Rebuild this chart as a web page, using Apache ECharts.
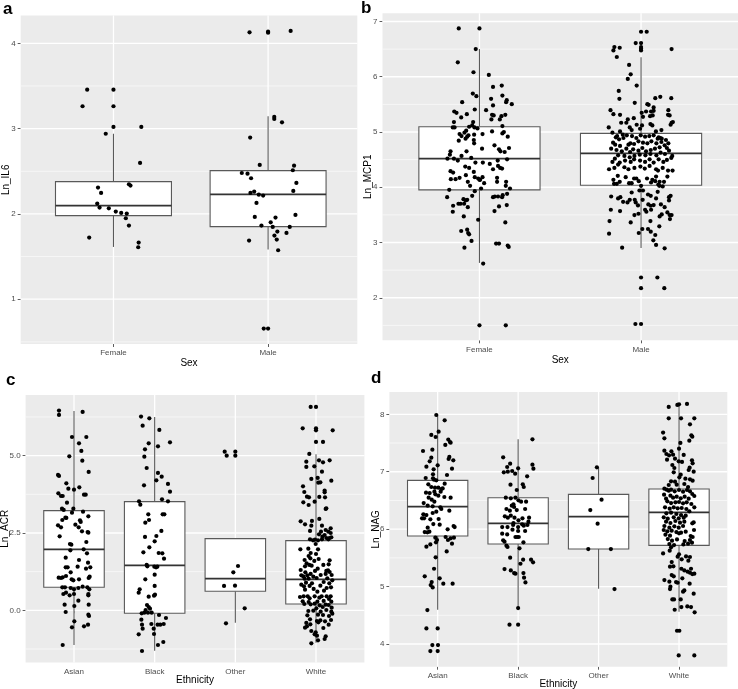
<!DOCTYPE html>
<html><head><meta charset="utf-8">
<script src="https://cdn.jsdelivr.net/npm/echarts@6/dist/echarts.min.js"></script>
<style>html,body{margin:0;padding:0;background:#fff}#c{width:738px;height:689px}</style>
</head><body><div id="c"></div>
<script>
// ---------- categories ----------
const sexCats = ['Female', 'Male'];
const ethCats = ['Asian', 'Black', 'Other', 'White'];

// ---------- tick values ----------
const il6Ticks = [1, 2, 3, 4], il6Minor = [0.5, 1.5, 2.5, 3.5];
const mcp1Ticks = [2, 3, 4, 5, 6, 7], mcp1Minor = [1.5, 2.5, 3.5, 4.5, 5.5, 6.5];
const acrTicks = [0, 2.5, 5], acrMinor = [-1.25, 1.25, 3.75, 6.25];
const nagTicks = [4, 5, 6, 7, 8], nagMinor = [4.5, 5.5, 6.5, 7.5];

// ---------- box statistics: [lower whisker, Q1, median, Q3, upper whisker] ----------
const il6Box = [[1.613, 1.98, 2.097, 2.379, 2.94], [1.582, 1.851, 2.23, 2.508, 3.145]];
const mcp1Box = [[2.631, 3.953, 4.518, 5.095, 6.501], [2.901, 4.037, 4.614, 4.975, 6.351]];
const acrBox = [[-1.121, 0.744, 1.972, 3.222, 6.444], [-1.304, -0.097, 1.455, 3.513, 6.25],
                [-0.399, 0.614, 1.024, 2.317, 2.317], [-1.045, 0.205, 1.002, 2.252, 5.043]];
const nagBox = [[4.597, 5.88, 6.391, 6.85, 7.977], [4.626, 5.741, 6.101, 6.548, 7.564],
                [4.963, 5.654, 6.217, 6.606, 7.077], [4.562, 5.718, 6.293, 6.699, 8.174]];

// ---------- jittered observations: [jitter, value] ----------
const il6Female = [[-0.17,3.457],[0,3.457],[-0.2,3.262],[0,3.262],[0,3.02],[0.18,3.02],[-0.05,2.94],[0.172,2.598],[-0.1,2.309],[0.1,2.348],[0.11,2.332],[-0.08,2.246],[-0.105,2.121],[-0.09,2.074],[-0.03,2.066],[0.015,2.027],[0.05,2.012],[0.086,2.004],[0.08,1.949],[0.1,1.863],[-0.157,1.723],[0.163,1.664],[0.16,1.609]];
const il6Male = [[-0.12,4.129],[0,4.137],[0,4.125],[0.146,4.145],[0.04,3.137],[0.04,3.113],[0.09,3.074],[-0.116,2.895],[-0.054,2.574],[0.168,2.566],[0.16,2.512],[-0.17,2.48],[-0.133,2.472],[-0.11,2.418],[0.183,2.363],[0.163,2.27],[-0.09,2.262],[-0.114,2.246],[-0.06,2.226],[-0.032,2.215],[-0.075,2.129],[0.177,1.988],[-0.086,1.965],[0.048,1.957],[0.017,1.902],[-0.043,1.863],[0.03,1.848],[0.14,1.848],[0.06,1.793],[0.119,1.777],[0.041,1.746],[0.056,1.699],[-0.123,1.688],[0.065,1.574],[-0.028,0.656],[0,0.656]];

const mcp1Female = [[-0.128,6.874],[0,6.874],[-0.023,6.501],[-0.134,6.261],[-0.037,6.081],[0.058,6.032],[0.084,5.816],[0.138,5.84],[-0.041,5.696],[-0.019,5.648],[0.142,5.66],[0.169,5.576],[0.165,5.54],[0.2,5.504],[0.072,5.6],[-0.107,5.54],[0.084,5.48],[0.041,5.395],[-0.156,5.371],[-0.142,5.347],[-0.029,5.407],[-0.078,5.323],[-0.113,5.263],[0.078,5.311],[0.088,5.299],[0.136,5.287],[0.16,5.311],[0.074,5.227],[0.126,5.227],[-0.158,5.179],[-0.039,5.179],[0.142,5.107],[-0.165,5.083],[-0.154,5.083],[-0.064,5.095],[-0.045,5.119],[-0.031,5.083],[-0.012,5.065],[-0.082,5.023],[-0.093,4.987],[-0.123,4.963],[-0.111,4.927],[-0.068,4.939],[-0.033,4.951],[0.019,4.963],[0.078,5.011],[0.142,4.975],[0.151,4.999],[0.175,4.915],[-0.086,4.879],[-0.076,4.915],[-0.128,4.843],[-0.035,4.855],[-0.033,4.795],[0.093,4.758],[0.121,4.686],[0.13,4.65],[0.183,4.71],[0.156,4.638],[0.016,4.698],[-0.08,4.65],[-0.179,4.65],[-0.183,4.59],[-0.111,4.566],[-0.158,4.518],[-0.198,4.518],[-0.134,4.482],[-0.051,4.53],[0.113,4.482],[0.171,4.506],[-0.025,4.446],[0.021,4.446],[0.064,4.422],[0.115,4.386],[0.128,4.35],[0.14,4.338],[-0.088,4.374],[-0.064,4.35],[0.084,4.326],[-0.179,4.29],[-0.163,4.266],[-0.035,4.278],[-0.084,4.218],[-0.029,4.182],[-0.008,4.158],[0.004,4.134],[0.019,4.182],[0.029,4.074],[-0.177,4.146],[-0.148,4.146],[-0.123,4.17],[-0.072,4.098],[-0.058,4.026],[0,4.134],[0.109,4.17],[0.109,4.098],[0.165,4.098],[0.163,4.026],[0.189,3.977],[0.01,3.977],[-0.029,3.929],[-0.187,3.953],[-0.2,3.821],[-0.045,3.845],[0.084,3.821],[0.095,3.833],[0.115,3.833],[0.14,3.821],[0.144,3.857],[0.171,3.881],[-0.099,3.785],[-0.086,3.761],[-0.076,3.773],[-0.13,3.701],[-0.117,3.701],[-0.095,3.701],[-0.072,3.64],[-0.163,3.665],[0.121,3.653],[0.169,3.677],[-0.165,3.557],[0.093,3.569],[-0.097,3.472],[-0.008,3.412],[0.16,3.364],[-0.113,3.208],[-0.076,3.232],[-0.07,3.172],[-0.064,3.148],[-0.049,3.028],[-0.093,2.907],[0.103,2.98],[0.121,2.98],[0.175,2.944],[0.181,2.92],[0.023,2.619],[0,1.501],[0.163,1.501]];
const mcp1Male = [[0,6.814],[0.035,6.814],[-0.033,6.609],[0,6.609],[0,6.537],[0,6.507],[0,6.477],[-0.165,6.537],[-0.171,6.477],[-0.132,6.525],[0.189,6.501],[-0.15,6.357],[-0.074,6.213],[-0.064,6.044],[-0.082,5.96],[-0.027,5.84],[-0.138,5.744],[-0.134,5.6],[0.088,5.612],[0.119,5.636],[0.187,5.612],[-0.039,5.528],[0.039,5.504],[0.047,5.492],[0.078,5.444],[0.078,5.383],[-0.189,5.395],[-0.171,5.323],[-0.13,5.311],[0.004,5.347],[0.031,5.371],[0.062,5.371],[0.169,5.395],[0.167,5.311],[0.177,5.299],[0.012,5.275],[0.056,5.287],[0.072,5.299],[-0.082,5.227],[-0.045,5.251],[0.189,5.167],[0.197,5.179],[0.183,5.131],[-0.123,5.167],[-0.091,5.167],[-0.027,5.131],[0.058,5.143],[0.07,5.119],[-0.07,5.083],[-0.2,5.083],[-0.058,5.035],[-0.006,5.059],[0.006,5.119],[0.092,5.011],[0.126,5.035],[-0.177,4.987],[-0.13,5.011],[-0.113,4.951],[-0.148,4.927],[-0.156,4.903],[-0.173,4.807],[-0.136,4.867],[-0.109,4.891],[-0.088,4.939],[-0.056,4.927],[-0.029,4.891],[-0.002,4.939],[0.025,4.915],[0.051,4.927],[0.078,4.939],[0.109,4.903],[0.103,4.879],[0.119,4.891],[0.128,4.879],[0.154,4.855],[0.169,4.795],[0.146,4.758],[0.126,4.819],[0.095,4.795],[0.064,4.831],[0.039,4.795],[0.012,4.807],[-0.016,4.831],[-0.043,4.783],[-0.066,4.795],[-0.078,4.771],[-0.13,4.747],[-0.16,4.771],[-0.185,4.698],[-0.152,4.674],[-0.119,4.65],[-0.091,4.698],[-0.068,4.638],[-0.049,4.686],[-0.016,4.662],[0.008,4.71],[0.031,4.65],[0.06,4.674],[0.086,4.698],[0.115,4.722],[0.16,4.71],[0.173,4.662],[0.148,4.602],[0.121,4.626],[0.095,4.578],[0.058,4.602],[0.027,4.578],[-0.008,4.59],[-0.041,4.566],[-0.07,4.542],[-0.103,4.566],[-0.142,4.578],[-0.162,4.518],[-0.177,4.458],[-0.132,4.446],[-0.099,4.482],[-0.064,4.458],[-0.043,4.506],[-0.006,4.482],[0.025,4.458],[0.053,4.506],[0.078,4.446],[0.109,4.506],[0.138,4.458],[0.16,4.494],[0.187,4.53],[0.193,4.566],[-0.198,4.326],[-0.165,4.35],[-0.142,4.41],[-0.103,4.362],[-0.078,4.326],[-0.041,4.35],[-0.004,4.374],[0.023,4.338],[0.053,4.386],[0.093,4.326],[0.105,4.302],[0.134,4.35],[0.167,4.302],[0.195,4.302],[-0.144,4.206],[-0.171,4.134],[-0.132,4.098],[-0.095,4.182],[-0.043,4.158],[-0.029,4.158],[-0.014,4.11],[0.037,4.158],[0.07,4.134],[0.093,4.194],[0.115,4.098],[0.163,4.194],[-0.167,4.062],[-0.15,4.062],[-0.074,4.074],[-0.058,4.074],[0.062,4.086],[0.088,4.11],[0.142,4.098],[0.107,4.05],[0.113,4.026],[0.134,4.014],[0,4.026],[-0.01,3.941],[0.012,3.941],[-0.058,3.905],[0.043,3.869],[0.06,3.845],[0.103,3.917],[0.093,3.797],[0.173,3.821],[0.183,3.845],[0.173,3.761],[-0.185,3.833],[-0.142,3.797],[-0.128,3.821],[-0.111,3.737],[-0.084,3.725],[-0.07,3.773],[-0.039,3.773],[-0.033,3.725],[-0.019,3.671],[0.01,3.773],[0.045,3.689],[0.06,3.665],[0.078,3.677],[0.123,3.689],[0.146,3.64],[0.025,3.593],[0.033,3.557],[0.062,3.593],[-0.13,3.569],[-0.187,3.593],[-0.041,3.496],[-0.016,3.52],[0.115,3.472],[0.128,3.508],[0.163,3.545],[0.177,3.496],[0.189,3.496],[0.179,3.424],[-0.195,3.388],[-0.064,3.364],[0.058,3.388],[0.113,3.292],[0.008,3.244],[0.043,3.244],[0.06,3.196],[-0.014,3.172],[-0.198,3.16],[0.088,3.136],[0.076,3.04],[0.093,2.956],[-0.117,2.907],[0.146,2.895],[0,2.367],[0.101,2.367],[0,2.174],[0.144,2.174],[-0.035,1.525],[0,1.525]];

const acrAsian = [[-0.186,6.455],[-0.186,6.315],[0.107,6.412],[-0.025,5.603],[0.153,5.603],[0.062,5.399],[0.091,5.151],[-0.058,4.978],[0.103,4.838],[0.182,4.472],[-0.198,4.375],[-0.186,4.343],[-0.095,4.106],[0.066,3.976],[-0.07,3.933],[0,3.901],[0.124,3.739],[0.145,3.739],[-0.194,3.782],[-0.161,3.696],[-0.14,3.696],[-0.087,3.481],[-0.149,3.287],[-0.128,3.244],[-0.008,3.287],[-0.025,3.157],[0.112,3.19],[-0.095,2.985],[-0.145,2.92],[-0.107,2.996],[0.178,3.039],[0.074,2.909],[0.083,2.856],[-0.198,2.748],[-0.161,2.683],[0.017,2.769],[0.058,2.683],[0.099,2.554],[0.169,2.532],[0.178,2.511],[-0.178,2.392],[-0.05,2.144],[-0.033,2.123],[0.153,2.209],[0.12,1.972],[-0.045,1.94],[0.161,1.843],[-0.103,1.703],[0.062,1.627],[0.174,1.541],[-0.103,1.39],[-0.079,1.39],[0.045,1.412],[0.149,1.347],[0.202,1.39],[-0.041,1.228],[-0.19,1.056],[-0.161,1.045],[-0.14,1.067],[-0.099,1.11],[-0.029,1.002],[-0.008,0.97],[0.062,1.002],[0.182,1.045],[0.194,1.088],[-0.145,0.744],[-0.112,0.744],[-0.041,0.722],[0,0.679],[0.054,0.722],[0.107,0.765],[0.165,0.744],[0.19,0.679],[-0.132,0.528],[-0.099,0.571],[-0.054,0.485],[0,0.528],[0.178,0.528],[0.178,0.485],[0.054,0.313],[-0.116,0.183],[0.004,0.14],[0.182,0.183],[-0.103,-0.054],[0.178,-0.14],[0.186,-0.183],[0.004,-0.356],[-0.025,-0.55],[0.124,-0.517],[0.174,-0.463],[-0.14,-1.121]];
const acrBlack = [[-0.169,6.261],[-0.066,6.207],[-0.149,5.97],[0.058,5.83],[0.19,5.431],[-0.074,5.399],[0.041,5.302],[-0.12,5.205],[-0.128,4.968],[-0.099,4.601],[0.041,4.44],[0.087,4.321],[0.021,4.203],[-0.132,4.041],[0.165,4.084],[0.19,3.836],[0.091,3.588],[0.165,3.524],[-0.194,3.524],[-0.178,3.416],[-0.079,3.103],[0.099,3.103],[0.12,3.103],[-0.07,2.92],[-0.116,2.834],[0.083,2.565],[0.021,2.403],[-0.12,2.371],[0,2.231],[-0.066,2.037],[-0.14,1.875],[0.05,1.853],[0.095,1.843],[0.116,1.67],[-0.099,1.466],[-0.091,1.422],[-0.004,1.412],[0.017,1.39],[0.033,1.412],[0,1.153],[-0.116,1.002],[0,0.787],[-0.186,0.679],[-0.198,0.571],[0.004,0.506],[-0.008,0.474],[-0.074,0.442],[-0.095,0.172],[-0.074,0.108],[-0.058,0.054],[-0.112,0.011],[-0.161,-0.097],[-0.128,-0.075],[-0.083,-0.075],[-0.037,-0.075],[0.054,-0.151],[0.14,-0.248],[-0.165,-0.302],[-0.157,-0.463],[-0.041,-0.442],[0.037,-0.463],[0.07,-0.463],[0.112,-0.442],[-0.149,-0.593],[-0.012,-0.593],[-0.198,-0.776],[-0.008,-0.765],[0.107,-1.024],[0.041,-1.121],[-0.157,-1.315]];
const acrOther = [[-0.132,5.129],[-0.107,5.0],[0,5.129],[0,5.0],[0.033,1.433],[-0.025,1.228],[-0.14,0.787],[-0.004,0.797],[0.116,0.065],[-0.116,-0.42]];
const acrWhite = [[-0.066,6.573],[0,6.573],[-0.165,5.884],[0,5.884],[0,5.819],[0.207,5.819],[0,5.442],[0.087,5.442],[-0.083,5.054],[-0.12,4.806],[0.037,4.849],[0.087,4.784],[0.169,4.849],[-0.12,4.634],[-0.021,4.655],[0.074,4.483],[-0.058,4.246],[0.021,4.278],[0.029,4.127],[0.054,4.138],[0.19,4.192],[-0.161,4.009],[0.107,3.869],[0.107,3.815],[-0.145,3.825],[-0.112,3.675],[-0.087,3.653],[0.041,3.664],[0.112,3.653],[-0.157,3.491],[-0.091,3.405],[-0.017,3.513],[0.128,3.297],[0.12,3.276],[0.041,2.953],[-0.19,2.877],[-0.136,2.78],[-0.05,2.888],[-0.058,2.737],[0.074,2.737],[0.182,2.651],[0.12,2.597],[-0.074,2.565],[0.062,2.543],[0.153,2.543],[0.182,2.5],[0.037,2.457],[0.107,2.435],[0.079,2.381],[0.128,2.338],[0.165,2.338],[0.19,2.36],[-0.074,2.295],[-0.037,2.263],[-0.012,2.285],[0.025,2.263],[0.074,2.295],[0.153,2.295],[-0.004,2.144],[-0.194,1.972],[-0.095,1.994],[0.025,1.972],[-0.066,1.853],[0,1.821],[-0.091,1.756],[-0.141,1.627],[-0.07,1.681],[-0.021,1.595],[0.033,1.659],[0.169,1.616],[-0.116,1.519],[-0.054,1.444],[-0.136,1.422],[-0.083,1.466],[0.091,1.466],[0.157,1.487],[0.021,1.347],[-0.012,1.272],[0.128,1.272],[0.149,1.293],[-0.19,1.304],[-0.132,1.228],[-0.066,1.175],[0.12,1.175],[0.169,1.239],[0.194,1.142],[-0.182,1.131],[-0.157,1.099],[-0.107,1.131],[-0.033,1.088],[0.058,1.142],[-0.141,1.024],[-0.091,1.024],[0.008,1.045],[0.14,1.034],[0.202,0.97],[-0.124,0.894],[-0.05,0.873],[0.095,0.916],[0.165,0.873],[-0.182,0.83],[-0.149,0.776],[-0.079,0.787],[0.054,0.797],[0.132,0.722],[0.186,0.744],[-0.136,0.668],[-0.029,0.69],[0.017,0.603],[0.099,0.636],[-0.198,0.431],[-0.153,0.453],[-0.103,0.453],[-0.079,0.388],[-0.017,0.453],[0.041,0.409],[0.07,0.453],[0.132,0.453],[0.182,0.453],[0.161,0.366],[-0.165,0.291],[-0.091,0.269],[0.017,0.28],[0.095,0.302],[0.19,0.28],[-0.145,0.205],[-0.066,0.194],[-0.017,0.216],[0.045,0.162],[0.12,0.183],[0.157,0.172],[0.004,0.065],[0.083,0.108],[0.194,0.086],[-0.095,-0.022],[-0.033,-0.011],[0.058,-0.043],[0.128,0.011],[0.19,-0.043],[-0.107,-0.162],[0.025,-0.14],[0.087,-0.151],[0.161,-0.183],[0.202,-0.108],[-0.074,-0.291],[0.012,-0.345],[0.054,-0.323],[0.112,-0.356],[0.186,-0.313],[-0.12,-0.409],[-0.07,-0.453],[0.029,-0.388],[0.157,-0.463],[-0.136,-0.56],[-0.112,-0.517],[0.091,-0.571],[-0.058,-0.668],[-0.004,-0.711],[-0.017,-0.776],[0.012,-0.819],[0.12,-0.84],[0.107,-0.927],[0.025,-0.97],[-0.058,-1.067]];

const nagAsian = [[-0.017,7.988],[0.087,7.895],[-0.079,7.64],[-0.025,7.605],[0.012,7.698],[0.132,7.559],[0.153,7.518],[0.161,7.506],[0.095,7.466],[-0.182,7.361],[-0.066,7.384],[-0.099,7.181],[-0.079,7.245],[-0.14,7.088],[-0.05,7.042],[0.145,7.257],[0.136,7.222],[0.194,7.199],[0,7.112],[0.178,7.053],[-0.058,6.955],[0.116,6.943],[-0.149,6.891],[-0.058,6.885],[-0.045,6.862],[-0.017,6.85],[-0.116,6.78],[0.087,6.792],[-0.079,6.734],[-0.033,6.722],[0.008,6.722],[0.045,6.699],[0.062,6.71],[-0.145,6.635],[-0.099,6.629],[-0.041,6.653],[0.037,6.653],[-0.029,6.606],[0.008,6.583],[-0.112,6.548],[-0.074,6.513],[-0.041,6.478],[0.083,6.56],[0.161,6.548],[-0.174,6.455],[-0.124,6.409],[-0.062,6.397],[0.033,6.38],[0.045,6.351],[-0.017,6.304],[0.145,6.322],[-0.178,6.258],[-0.14,6.246],[-0.062,6.281],[-0.194,6.188],[-0.169,6.188],[-0.091,6.171],[0.012,6.177],[-0.054,6.089],[0.025,6.078],[-0.124,6.026],[0.124,5.997],[0.198,6.055],[0.211,6.037],[-0.161,5.95],[-0.128,5.944],[-0.103,5.956],[0.099,5.863],[0.161,5.84],[0.202,5.851],[0.128,5.811],[-0.029,5.851],[-0.008,5.811],[-0.021,5.77],[-0.091,5.735],[-0.14,5.695],[0.178,5.747],[0.112,5.613],[-0.025,5.509],[-0.045,5.311],[-0.161,5.178],[0.025,5.143],[-0.074,5.079],[-0.087,5.027],[-0.062,4.986],[0.07,5.05],[0.186,5.05],[-0.128,4.591],[-0.14,4.272],[0,4.272],[-0.066,3.981],[0.004,3.981],[-0.091,3.877],[0,3.877]];
const nagBlack = [[0.178,7.564],[-0.186,7.251],[-0.099,7.141],[-0.136,7.082],[0,7.059],[-0.178,6.99],[-0.128,7.001],[-0.074,7.013],[-0.037,6.966],[0.178,7.123],[0.19,7.053],[0.112,6.92],[-0.095,6.775],[0.058,6.78],[0.07,6.734],[-0.017,6.682],[-0.033,6.548],[-0.153,6.548],[-0.091,6.537],[0.004,6.502],[0.037,6.479],[0.099,6.479],[-0.058,6.432],[-0.079,6.409],[-0.05,6.386],[-0.145,6.351],[-0.103,6.322],[-0.017,6.333],[0.087,6.351],[-0.165,6.223],[-0.091,6.235],[-0.128,6.2],[-0.045,6.2],[0.054,6.188],[0.136,6.2],[0.004,6.153],[-0.058,6.107],[0.128,6.13],[0.05,6.084],[0.07,6.06],[0.116,6.072],[-0.198,6.037],[-0.132,6.037],[-0.062,6.072],[0,6.037],[-0.07,5.991],[0,5.968],[0.087,5.968],[-0.198,5.921],[-0.136,5.909],[-0.033,5.863],[-0.012,5.863],[0.008,5.863],[-0.186,5.805],[-0.169,5.782],[0.066,5.77],[-0.145,5.712],[-0.132,5.689],[0.017,5.666],[-0.099,5.503],[0.062,5.468],[0.029,5.398],[0.161,5.468],[0.186,5.422],[-0.169,5.305],[-0.091,5.282],[-0.05,5.236],[-0.033,5.224],[0.066,5.236],[0.074,5.155],[0.091,5.073],[0,4.626],[-0.107,4.336],[0,4.336]];
const nagOther = [[-0.021,7.077],[-0.074,6.891],[0.037,6.513],[-0.103,6.333],[-0.012,6.095],[-0.128,5.654],[0.153,5.654],[0.198,4.957]];
const nagWhite = [[-0.128,8.128],[-0.021,8.163],[0,8.174],[0.099,8.18],[-0.128,7.93],[0.025,7.93],[0.19,7.93],[0.136,7.826],[-0.198,7.681],[-0.182,7.582],[0.153,7.634],[0.165,7.611],[0.128,7.541],[0.017,7.501],[0,7.402],[-0.182,7.367],[-0.157,7.309],[-0.095,7.355],[-0.074,7.297],[-0.124,7.286],[0.058,7.292],[-0.149,7.21],[-0.05,7.228],[-0.004,7.181],[0.037,7.17],[0.161,7.199],[0.169,7.146],[-0.083,7.117],[-0.058,7.065],[0.132,7.071],[0.12,7.03],[-0.066,6.99],[0.021,6.949],[0.004,6.902],[0.182,7.001],[0.079,6.879],[0.136,6.868],[0.169,6.844],[-0.099,6.833],[-0.05,6.827],[-0.128,6.769],[-0.029,6.775],[0.066,6.786],[0.112,6.734],[-0.182,6.705],[-0.153,6.688],[-0.128,6.67],[-0.099,6.688],[-0.054,6.659],[0,6.682],[0.05,6.653],[0.099,6.682],[0.136,6.659],[0.165,6.612],[0.19,6.577],[-0.186,6.6],[-0.161,6.531],[-0.107,6.583],[-0.074,6.548],[-0.029,6.566],[0.021,6.537],[0.07,6.566],[0.12,6.531],[-0.145,6.484],[-0.099,6.455],[-0.045,6.467],[0,6.473],[0.05,6.449],[0.095,6.467],[0.153,6.438],[0.19,6.38],[-0.174,6.38],[-0.116,6.357],[-0.066,6.38],[-0.017,6.362],[0.033,6.368],[0.091,6.351],[0.128,6.31],[-0.157,6.275],[-0.099,6.287],[-0.033,6.264],[0.025,6.246],[0.083,6.235],[-0.19,6.206],[-0.14,6.182],[-0.066,6.206],[-0.004,6.188],[0.058,6.2],[-0.161,6.13],[-0.107,6.107],[-0.045,6.142],[0.012,6.113],[0.066,6.13],[0.165,6.101],[0.182,6.118],[-0.182,6.055],[-0.12,6.026],[-0.058,6.049],[-0.004,6.026],[0.05,6.055],[-0.19,5.985],[-0.145,5.962],[-0.091,5.973],[-0.033,5.95],[0.025,5.938],[0.083,5.956],[0.186,5.985],[-0.169,5.904],[-0.112,5.886],[0,5.927],[0.145,5.88],[0.169,5.863],[-0.14,5.828],[-0.087,5.799],[-0.025,5.822],[0.07,5.793],[0.136,5.811],[0.161,5.764],[-0.12,5.741],[-0.062,5.723],[0.054,5.735],[0.112,5.747],[-0.099,5.683],[-0.116,5.625],[-0.198,5.578],[0,5.561],[-0.017,5.52],[0.033,5.474],[0.087,5.526],[0.136,5.515],[0.116,5.451],[-0.091,5.427],[-0.112,5.346],[-0.07,5.352],[0.029,5.311],[0.149,5.311],[0.066,5.282],[0.107,5.259],[0.136,5.242],[0.165,5.218],[0.19,5.224],[-0.091,5.201],[-0.066,5.178],[0.041,5.143],[-0.182,5.114],[-0.12,5.085],[-0.037,5.079],[-0.017,5.067],[0.132,5.05],[-0.107,4.998],[-0.112,4.957],[0.066,4.934],[0.05,4.911],[0.182,4.876],[-0.083,4.777],[-0.062,4.777],[0.021,4.777],[-0.054,4.597],[0.029,4.643],[0.103,4.655],[0.149,4.643],[0.194,4.551],[-0.025,4.231],[0.004,4.231],[-0.004,3.801],[0.19,3.801]];

// ---------- chart ----------
const FONT = '"Liberation Sans", Arial, Helvetica, sans-serif';
const chart = echarts.init(document.getElementById('c'), null, {renderer: 'canvas'});

const panels = [
  {cats: sexCats, groups: [il6Female, il6Male], box: il6Box, ticks: il6Ticks, minor: il6Minor,
   yName: 'Ln_IL6', xName: 'Sex', ymin: 0.475, ymax: 4.325, xmax: 2.577,
   grid: {left: 20.7, top: 15.6, width: 336.6, height: 328.4}, yGap: 9, xGap: 14.5, fmt: v => String(v)},
  {cats: sexCats, groups: [mcp1Female, mcp1Male], box: mcp1Box, ticks: mcp1Ticks, minor: mcp1Minor,
   yName: 'Ln_MCP1', xName: 'Sex', ymin: 1.23, ymax: 7.15, xmax: 2.6,
   grid: {left: 382.5, top: 13.2, width: 355.5, height: 327.1}, yGap: 9.5, xGap: 14.6, fmt: v => String(v)},
  {cats: ethCats, groups: [acrAsian, acrBlack, acrOther, acrWhite], box: acrBox, ticks: acrTicks, minor: acrMinor,
   yName: 'Ln_ACR', xName: 'Ethnicity', ymin: -1.69, ymax: 6.96, xmax: 4.6,
   grid: {left: 25.6, top: 395, width: 338.8, height: 267.6}, yGap: 15.6, xGap: 12.3, fmt: v => v.toFixed(1)},
  {cats: ethCats, groups: [nagAsian, nagBlack, nagOther, nagWhite], box: nagBox, ticks: nagTicks, minor: nagMinor,
   yName: 'Ln_NAG', xName: 'Ethnicity', ymin: 3.605, ymax: 8.39, xmax: 4.6,
   grid: {left: 389.4, top: 391.9, width: 337.9, height: 274.8}, yGap: 8, xGap: 12.5, fmt: v => String(v)}
];

const grids = [], xAxes = [], yAxes = [], series = [];
panels.forEach((p, i) => {
  grids.push(Object.assign({show: true, backgroundColor: '#EBEBEB', borderWidth: 0, containLabel: false, outerBoundsMode: 'none'}, p.grid));
  const catPos = p.cats.map((c, k) => k + 1);
  xAxes.push({
    gridIndex: i, type: 'value', min: 0.4, max: p.xmax,
    axisLine: {show: false}, splitLine: {show: false},
    axisTick: {show: true, length: 3, customValues: catPos, lineStyle: {color: '#333', width: 0.8}},
    axisLabel: {customValues: catPos, formatter: v => p.cats[Math.round(v) - 1] || '',
      fontSize: 8, color: '#4d4d4d', margin: 5, fontFamily: FONT},
    name: p.xName, nameLocation: 'middle', nameGap: p.xGap, nameMoveOverlap: false,
    nameTextStyle: {fontSize: 10, color: '#000', fontFamily: FONT, verticalAlign: 'top'}
  });
  yAxes.push({
    gridIndex: i, type: 'value', min: p.ymin, max: p.ymax,
    axisLine: {show: false}, splitLine: {show: false},
    axisTick: {show: true, length: 3, customValues: p.ticks, lineStyle: {color: '#333', width: 0.8}},
    axisLabel: {customValues: p.ticks, formatter: p.fmt, fontSize: 8, color: '#4d4d4d', margin: 5, fontFamily: FONT},
    name: p.yName, nameLocation: 'middle', nameGap: p.yGap, nameRotate: 90, nameMoveOverlap: false,
    nameTextStyle: {fontSize: 10, color: '#000', fontFamily: FONT}
  });
  // grid lines drawn through the axes' scales
  const gl = [];
  p.ticks.forEach(v => gl.push([0, v, 1]));
  p.minor.forEach(v => gl.push([0, v, 0]));
  catPos.forEach(v => gl.push([1, v, 1]));
  series.push({
    type: 'custom', xAxisIndex: i, yAxisIndex: i, z: 1, silent: true, data: gl,
    encode: {x: -1, y: -1},
    renderItem: (params, api) => {
      const cs = params.coordSys;
      const kind = api.value(0), v = api.value(1), major = api.value(2);
      if (kind === 0) {
        const y = api.coord([1, v])[1];
        return {type: 'line', shape: {x1: cs.x, y1: y, x2: cs.x + cs.width, y2: y},
          style: {stroke: '#fff', lineWidth: major ? 1.3 : 0.6}};
      }
      const x = api.coord([v, p.ymin])[0];
      return {type: 'line', shape: {x1: x, y1: cs.y, x2: x, y2: cs.y + cs.height},
        style: {stroke: '#fff', lineWidth: 1.3}};
    }
  });
  // boxes
  series.push({
    type: 'custom', xAxisIndex: i, yAxisIndex: i, z: 2, silent: true,
    data: p.box.map((b, k) => [k + 1].concat(b)),
    encode: {x: 0, y: [1, 2, 3, 4, 5]},
    renderItem: (params, api) => {
      const x = api.value(0);
      const lo = api.coord([x, api.value(1)]), q1 = api.coord([x, api.value(2)]),
            md = api.coord([x, api.value(3)]), q3 = api.coord([x, api.value(4)]),
            hi = api.coord([x, api.value(5)]);
      const hw = api.size([0.375, 0])[0];
      const c = '#595959';
      return {type: 'group', children: [
        {type: 'line', shape: {x1: lo[0], y1: lo[1], x2: q1[0], y2: q1[1]}, style: {stroke: c, lineWidth: 1.1}},
        {type: 'line', shape: {x1: q3[0], y1: q3[1], x2: hi[0], y2: hi[1]}, style: {stroke: c, lineWidth: 1.1}},
        {type: 'rect', shape: {x: q1[0] - hw, y: q3[1], width: 2 * hw, height: q1[1] - q3[1]},
          style: {fill: '#fff', stroke: c, lineWidth: 1.1}},
        {type: 'line', shape: {x1: md[0] - hw, y1: md[1], x2: md[0] + hw, y2: md[1]}, style: {stroke: '#333', lineWidth: 1.8}}
      ]};
    }
  });
  // jittered points
  p.groups.forEach((g, k) => {
    series.push({
      type: 'scatter', xAxisIndex: i, yAxisIndex: i, z: 3, silent: true,
      symbol: 'circle', symbolSize: 4.2, itemStyle: {color: '#000', opacity: 1},
      data: g.map(d => [k + 1 + d[0], d[1]])
    });
  });
});

const letters = [['a', 3, 1], ['b', 361, 0], ['c', 6, 372], ['d', 371, 370]];
chart.setOption({
  animation: false,
  backgroundColor: '#fff',
  grid: grids, xAxis: xAxes, yAxis: yAxes, series: series,
  graphic: letters.map(l => ({type: 'text', left: l[1], top: l[2], z: 10,
    style: {text: l[0], fontSize: 17, fontWeight: 'bold', fill: '#000', fontFamily: FONT}}))
});
</script></body></html>
